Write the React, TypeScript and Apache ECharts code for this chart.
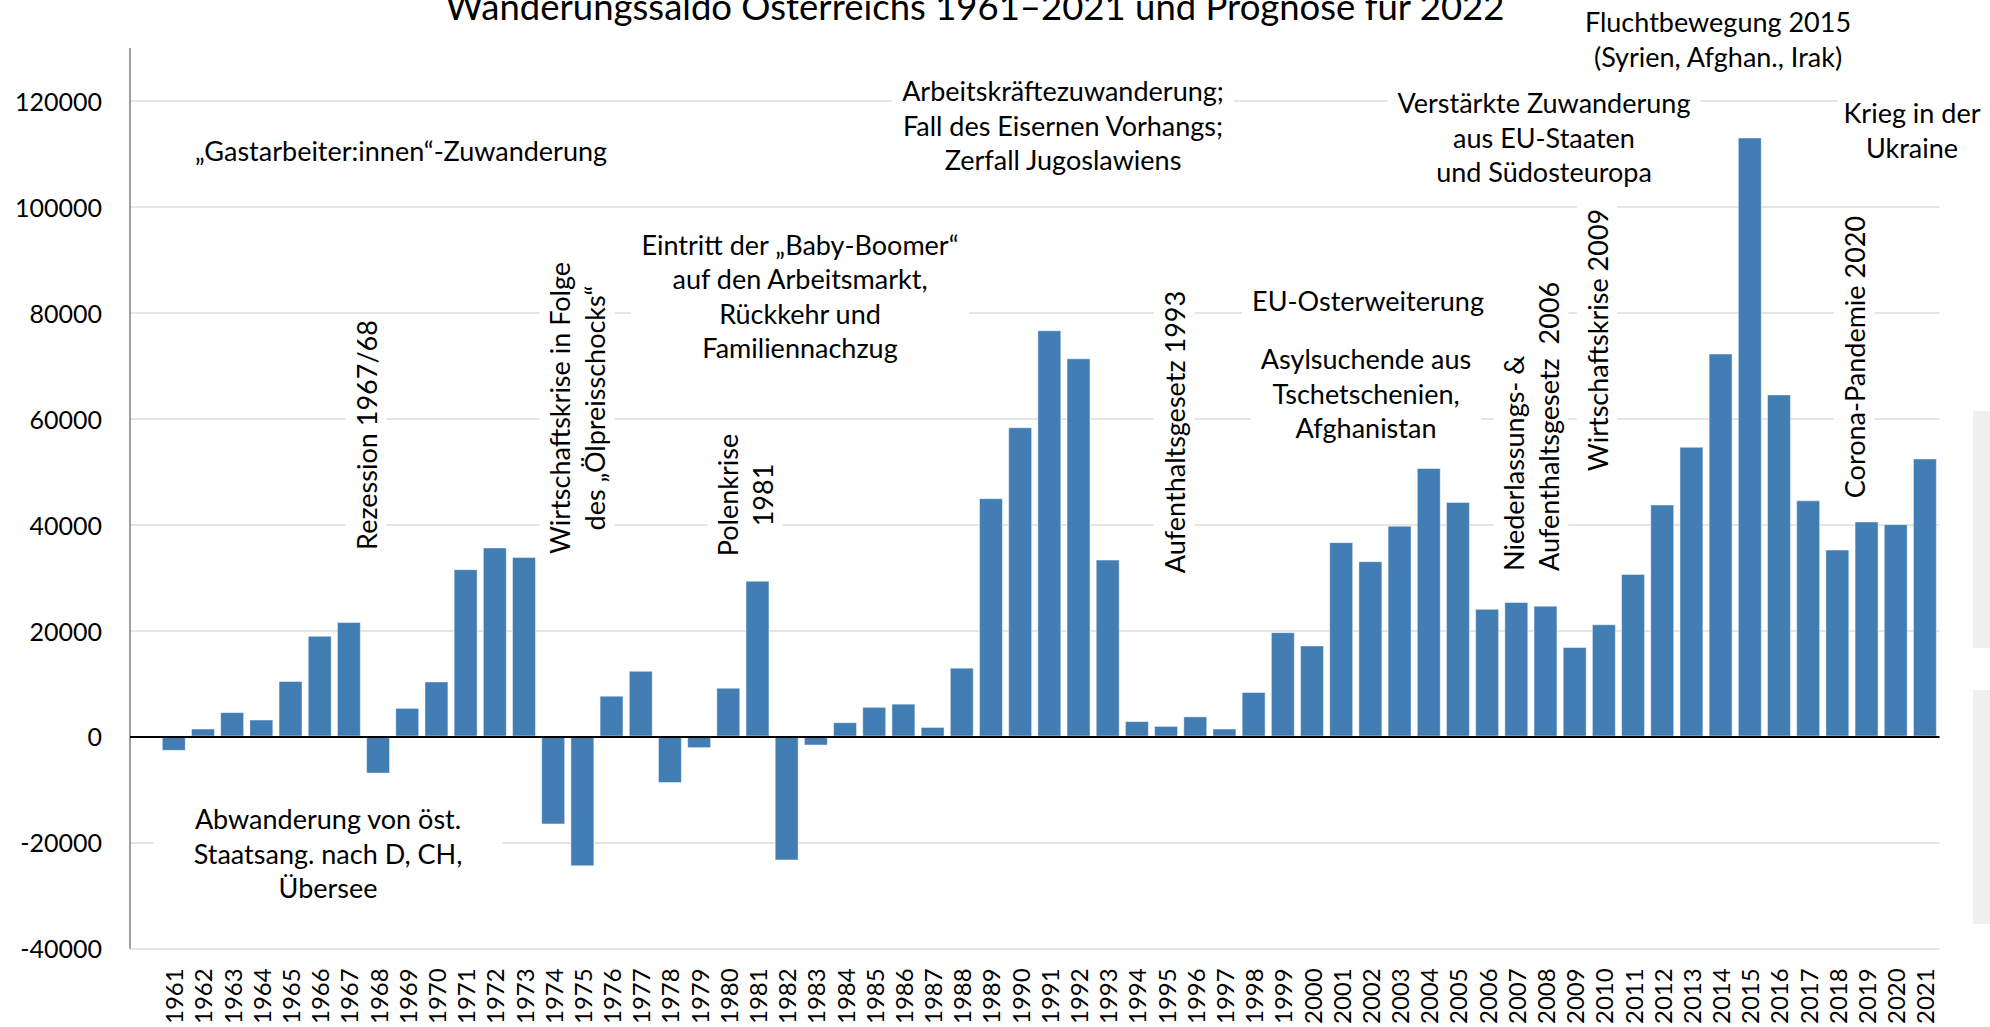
import React, { useEffect, useRef } from 'react';
import * as echarts from 'echarts';

// Categories: a leading empty slot (the reference leaves one empty band before 1961)
const years = ['', '1961', '1962', '1963', '1964', '1965', '1966', '1967', '1968', '1969', '1970',
  '1971', '1972', '1973', '1974', '1975', '1976', '1977', '1978', '1979', '1980',
  '1981', '1982', '1983', '1984', '1985', '1986', '1987', '1988', '1989', '1990',
  '1991', '1992', '1993', '1994', '1995', '1996', '1997', '1998', '1999', '2000',
  '2001', '2002', '2003', '2004', '2005', '2006', '2007', '2008', '2009', '2010',
  '2011', '2012', '2013', '2014', '2015', '2016', '2017', '2018', '2019', '2020', '2021'];

const saldo = [null, -2700, 1500, 4600, 3200, 10500, 19000, 21600, -7000, 5400, 10400,
  31600, 35700, 33900, -16600, -24500, 7700, 12400, -8800, -2200, 9200,
  29400, -23400, -1700, 2700, 5600, 6200, 1800, 13000, 45000, 58400,
  76700, 71400, 33400, 2900, 2000, 3800, 1500, 8400, 19700, 17200,
  36700, 33100, 39800, 50700, 44300, 24100, 25400, 24700, 16900, 21200,
  30700, 43800, 54700, 72300, 113100, 64600, 44600, 35300, 40600, 40100, 52500];

const yTicks = { min: -40000, max: 120000, interval: 20000 };

const titleText = 'Wanderungssaldo Österreichs 1961–2021 und Prognose für 2022';

const annotationTexts = [
  '„Gastarbeiter:innen“-Zuwanderung',
  'Abwanderung von öst.\nStaatsang. nach D, CH,\nÜbersee',
  'Rezession 1967/68',
  'Wirtschaftskrise in Folge\ndes „Ölpreisschocks“',
  'Polenkrise\n1981',
  'Eintritt der „Baby-Boomer“\nauf den Arbeitsmarkt,\nRückkehr und\nFamiliennachzug',
  'Arbeitskräftezuwanderung;\nFall des Eisernen Vorhangs;\nZerfall Jugoslawiens',
  'Aufenthaltsgesetz 1993',
  'EU-Osterweiterung',
  'Asylsuchende aus\nTschetschenien,\nAfghanistan',
  'Niederlassungs- &\nAufenthaltsgesetz  2006',
  'Wirtschaftskrise 2009',
  'Verstärkte Zuwanderung\naus EU-Staaten\nund Südosteuropa',
  'Fluchtbewegung 2015\n(Syrien, Afghan., Irak)',
  'Krieg in der\nUkraine',
  'Corona-Pandemie 2020',
];

// layout for each annotation: [x, y, vertical?, align, padH]
const annotationLayout: [number, number, boolean, string, number][] = [
  [401, 150, false, 'center', 10],
  [328, 853, false, 'center', 40],
  [366, 435, true, 'center', 6],
  [577, 408, true, 'center', 6],
  [745, 495, true, 'center', 6],
  [800, 296, false, 'center', 10],
  [1063, 125, false, 'center', 10],
  [1174, 432, true, 'center', 6],
  [1368, 300, false, 'center', 10],
  [1366, 393, false, 'center', 10],
  [1531, 577, true, 'left', 6],
  [1597, 340, true, 'center', 6],
  [1544, 137, false, 'center', 10],
  [1718, 39, false, 'center', 10],
  [1912, 130, false, 'center', 6],
  [1854, 357, true, 'center', 6],
];

const FONT = 'Lato, "Open Sans", sans-serif';

export default function App() {
  const ref = useRef<HTMLDivElement>(null);
  useEffect(() => {
    if (!ref.current) return;
    const chart = echarts.init(ref.current, undefined, { renderer: 'svg' });

    const annotationGraphics = annotationTexts.map((t, i) => {
      const [x, y, vert, align, padH] = annotationLayout[i];
      return {
        type: 'text',
        x,
        y,
        rotation: vert ? Math.PI / 2 : 0,
        z: 50,
        silent: true,
        style: {
          text: t,
          fill: '#000',
          font: `27px ${FONT}`,
          align,
          verticalAlign: 'middle',
          lineHeight: 34.5,
          backgroundColor: '#fff',
          padding: [3, padH],
        },
      };
    });

    chart.setOption({
      animation: false,
      backgroundColor: '#fff',
      grid: { left: 130, right: 50.5, top: 101, bottom: 75, containLabel: false },
      xAxis: {
        type: 'category',
        data: years,
        axisLine: { show: false, onZero: false },
        axisTick: { show: false },
        axisLabel: {
          rotate: 90,
          interval: 0,
          margin: 20,
          color: '#000',
          fontFamily: FONT,
          fontSize: 24,
        },
        splitLine: { show: false },
      },
      yAxis: {
        type: 'value',
        min: yTicks.min,
        max: yTicks.max,
        interval: yTicks.interval,
        axisLine: { show: true, lineStyle: { color: '#808080', width: 1.5 } },
        axisTick: { show: false },
        axisLabel: {
          color: '#000',
          fontFamily: FONT,
          fontSize: 25,
          margin: 28,
          formatter: (v: number) => String(v),
        },
        splitLine: { show: true, lineStyle: { color: '#dcdcdc', width: 1.5 } },
      },
      series: [
        {
          type: 'bar',
          data: saldo,
          barCategoryGap: '18%',
          itemStyle: { color: '#427db4', borderColor: 'rgba(255,255,255,0.45)', borderWidth: 1 },
          markLine: {
            silent: true,
            symbol: 'none',
            label: { show: false },
            lineStyle: { color: '#000', width: 2, type: 'solid' },
            data: [{ yAxis: 0 }],
          },
        },
      ],
      graphic: [
        {
          type: 'line',
          shape: { x1: 130, y1: 48, x2: 130, y2: 101 },
          style: { stroke: '#808080', lineWidth: 1.5 },
          silent: true,
        },
        {
          type: 'rect',
          shape: { x: 1973, y: 411, width: 17, height: 237 },
          style: { fill: '#f0f0f0' },
          silent: true,
        },
        {
          type: 'rect',
          shape: { x: 1973, y: 690, width: 17, height: 234 },
          style: { fill: '#f0f0f0' },
          silent: true,
        },
        {
          type: 'text',
          x: 975,
          y: 6,
          z: 50,
          silent: true,
          style: {
            text: titleText,
            fill: '#000',
            font: `36.5px ${FONT}`,
            align: 'center',
            verticalAlign: 'middle',
          },
        },
        ...annotationGraphics,
      ],
    });
    return () => chart.dispose();
  }, []);
  return (
    <div
      ref={ref}
      style={{ position: 'absolute', left: 0, top: 0, width: 1990, height: 1027 }}
    />
  );
}
